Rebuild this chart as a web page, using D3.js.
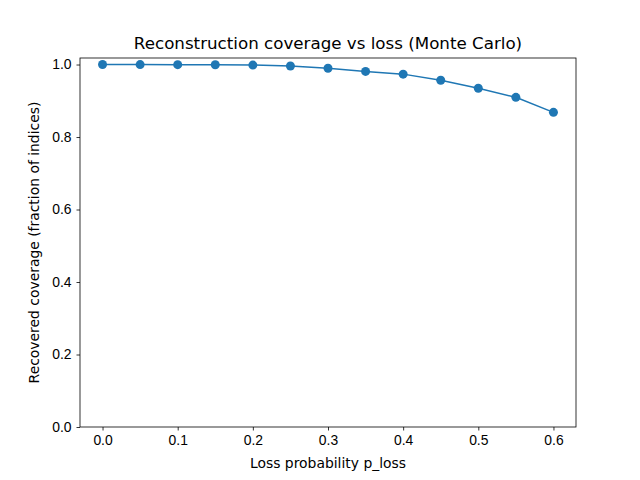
<!DOCTYPE html>
<html>
<head>
<meta charset="utf-8">
<script src="https://cdn.jsdelivr.net/npm/d3@7"></script>
<style>
  body { margin: 0; background: #fff; }
  svg { font-family: "DejaVu Sans", sans-serif; }
</style>
</head>
<body>
<svg id="chart"></svg>
<script>
// data
const pLoss = [0.0, 0.05, 0.1, 0.15, 0.2, 0.25, 0.3, 0.35, 0.4, 0.45, 0.5, 0.55, 0.6];
const coverage = [1.0, 0.9999, 0.9997, 0.9993, 0.9985, 0.9958, 0.9897, 0.981, 0.9735, 0.9565, 0.9345, 0.9095, 0.868];
const coverageErr = [0, 0, 0.0002, 0.0003, 0.0005, 0.0008, 0.0012, 0.0016, 0.002, 0.0025, 0.003, 0.004, 0.007];
const xTicks = [0.0, 0.1, 0.2, 0.3, 0.4, 0.5, 0.6];
const yTicks = [0.0, 0.2, 0.4, 0.6, 0.8, 1.0];

const width = 640, height = 480;
const margin = {top: 58, right: 64, bottom: 53, left: 80};
const color = "#1f77b4";

const svg = d3.select("#chart")
    .attr("width", width)
    .attr("height", height);

const x = d3.scaleLinear()
    .domain([-0.03, 0.63])
    .range([margin.left, width - margin.right]);

const y = d3.scaleLinear()
    .domain([0, 1.018])
    .range([height - margin.bottom, margin.top]);

// axes
const xAxis = svg.append("g")
    .attr("transform", `translate(0, ${height - margin.bottom})`)
    .call(d3.axisBottom(x).tickValues(xTicks).tickFormat(d3.format(".1f")).tickSizeOuter(0).tickSize(3.5).tickPadding(5));

const yAxis = svg.append("g")
    .attr("transform", `translate(${margin.left}, 0)`)
    .call(d3.axisLeft(y).tickValues(yTicks).tickFormat(d3.format(".1f")).tickSizeOuter(0).tickSize(3.5).tickPadding(5));

[xAxis, yAxis].forEach(a => {
    a.select(".domain").remove();
    a.selectAll("text").style("font-size", "13.9px").attr("fill", "#000");
    a.selectAll("line").attr("stroke", "#000").attr("stroke-width", 0.8);
});

// frame
svg.append("rect")
    .attr("x", margin.left)
    .attr("y", margin.top)
    .attr("width", width - margin.left - margin.right)
    .attr("height", height - margin.top - margin.bottom)
    .attr("fill", "none")
    .attr("stroke", "#000")
    .attr("stroke-width", 0.8);

const data = pLoss.map((p, i) => ({p: p, v: coverage[i], e: coverageErr[i]}));

// error bars
svg.append("g").selectAll("line")
    .data(data)
    .join("line")
    .attr("x1", d => x(d.p))
    .attr("x2", d => x(d.p))
    .attr("y1", d => y(d.v - d.e))
    .attr("y2", d => y(d.v + d.e))
    .attr("stroke", color)
    .attr("stroke-width", 1.5);

const line = d3.line()
    .x(d => x(d.p))
    .y(d => y(d.v));

svg.append("path")
    .datum(data)
    .attr("d", line)
    .attr("fill", "none")
    .attr("stroke", color)
    .attr("stroke-width", 1.5);

svg.append("g").selectAll("circle")
    .data(data)
    .join("circle")
    .attr("cx", d => x(d.p))
    .attr("cy", d => y(d.v))
    .attr("r", 4.5)
    .attr("fill", color);

// labels
svg.append("text")
    .attr("x", (margin.left + width - margin.right) / 2)
    .attr("y", margin.top - 9)
    .attr("text-anchor", "middle")
    .style("font-size", "16.7px")
    .text("Reconstruction coverage vs loss (Monte Carlo)");

svg.append("text")
    .attr("x", (margin.left + width - margin.right) / 2)
    .attr("y", height - 12)
    .attr("text-anchor", "middle")
    .style("font-size", "13.9px")
    .text("Loss probability p_loss");

svg.append("text")
    .attr("transform", `translate(39, ${(margin.top + height - margin.bottom) / 2}) rotate(-90)`)
    .attr("text-anchor", "middle")
    .style("font-size", "13.9px")
    .text("Recovered coverage (fraction of indices)");
</script>
</body>
</html>
